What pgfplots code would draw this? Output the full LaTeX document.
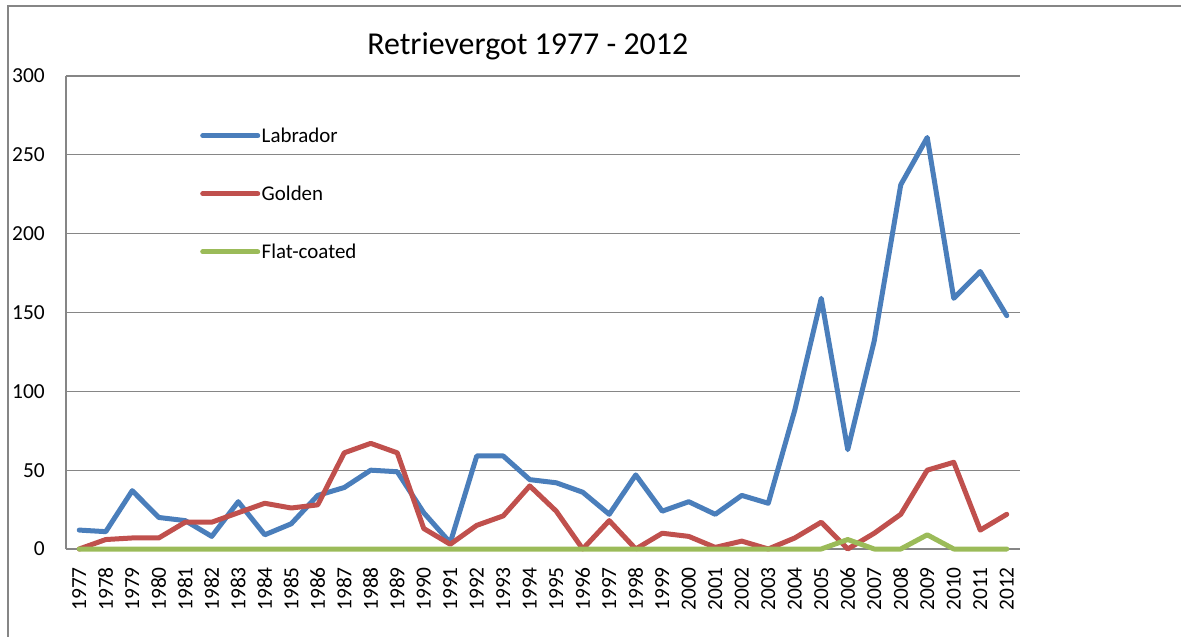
\documentclass[border=0pt]{standalone}
\usepackage{pgfplots}
\pgfplotsset{compat=1.18}
\usepackage{pgfplotstable}
\usepackage{fontspec}
\setmainfont{Carlito}
\definecolor{labblue}{RGB}{74,126,187}
\definecolor{goldred}{RGB}{192,80,77}
\definecolor{flatgreen}{RGB}{155,187,89}
\definecolor{gridgray}{RGB}{134,134,134}
\pgfplotstableread{
year lab gold flat
1977 12 0 0
1978 11 6 0
1979 37 7 0
1980 20 7 0
1981 18 17 0
1982 8 17 0
1983 30 23 0
1984 9 29 0
1985 16 26 0
1986 34 28 0
1987 39 61 0
1988 50 67 0
1989 49 61 0
1990 23 13 0
1991 4 3 0
1992 59 15 0
1993 59 21 0
1994 44 40 0
1995 42 24 0
1996 36 0 0
1997 22 18 0
1998 47 0 0
1999 24 10 0
2000 30 8 0
2001 22 1 0
2002 34 5 0
2003 29 0 0
2004 88 7 0
2005 159 17 0
2006 63 0 6
2007 132 10 0
2008 231 22 0
2009 261 50 9
2010 159 55 0
2011 176 12 0
2012 148 22 0
}\datatable
\begin{document}
\begin{tikzpicture}
\begin{axis}[
  at={(0bp,0bp)}, anchor=south west,
  scale only axis, width=954bp, height=473bp,
  xmin=1976.5, xmax=2012.5, ymin=0, ymax=300,
  xtick={1977,1978,...,2012},
  ytick={0,50,...,300},
  /pgf/number format/1000 sep={},
  /pgf/number format/assume math mode=true,
  axis lines=left,
  axis line style={-, draw=gridgray, line width=1.3bp},
  major tick length=0pt,
  ymajorgrids, grid style={draw=gridgray, line width=1.3bp},
  tick label style={font=\fontsize{21.5}{25}\selectfont, text=black},
  xticklabel style={rotate=90, anchor=east, inner sep=0pt},
  xticklabel shift=18bp,
  yticklabel style={anchor=east, inner sep=0pt},
  yticklabel shift=21bp,
  title={Retrievergot 1977 - 2012},
  title style={at={(rel axis cs:0.484,1.05)}, anchor=center, inner sep=0pt, font=\fontsize{32}{38}\selectfont},
  legend style={at={(rel axis cs:0.1405,0.894)}, anchor=north west, draw=none, fill=none,
    font=\fontsize{21}{25}\selectfont, row sep=39bp, inner sep=0pt,
    nodes={inner sep=1.5bp}},
  legend cell align=left,
  legend image code/.code={\draw[#1] (0bp,0bp) -- (55bp,0bp);},
  every axis plot/.append style={line width=5bp, line join=round, line cap=round},
  clip=false,
]
\addplot[labblue] table[x=year, y=lab] {\datatable};
\addlegendentry{Labrador}
\addplot[goldred] table[x=year, y=gold] {\datatable};
\addlegendentry{Golden}
\addplot[flatgreen] table[x=year, y=flat] {\datatable};
\addlegendentry{Flat-coated}
\end{axis}
\draw[gridgray, line width=1.3bp] (-58bp,-100bp) -- (-58bp,543bp) -- (1130bp,543bp);
\pgfresetboundingbox
\useasboundingbox (-66bp,-88bp) rectangle (1115bp,549bp);
\end{tikzpicture}
\end{document}
